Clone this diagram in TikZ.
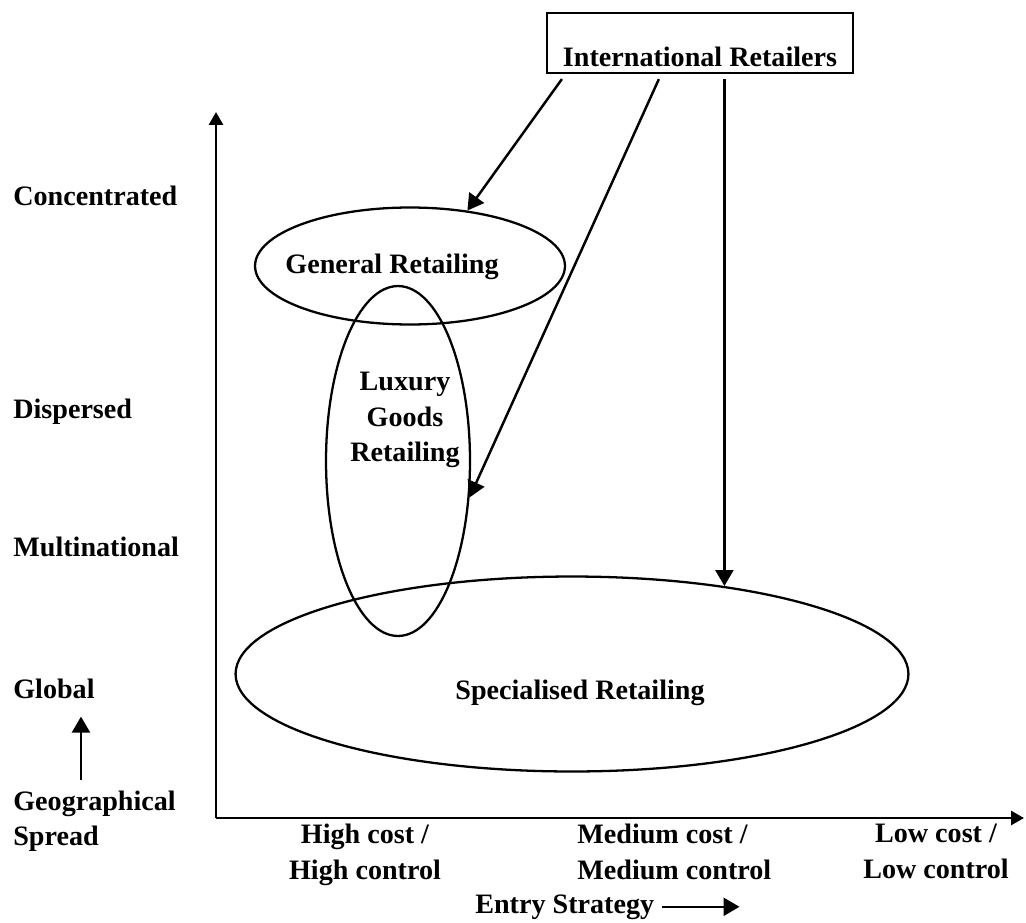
\documentclass[tikz,border=0pt]{standalone}
\usepackage{fontspec}
\setmainfont{Liberation Serif}
\usetikzlibrary{arrows.meta,positioning,calc,shapes.geometric}

\begin{document}
\begin{tikzpicture}[
  x=0.02cm, y=-0.02cm,
  lbl/.style={font=\fontsize{16}{20}\selectfont\bfseries, inner sep=0pt},
  zone/.style={draw, ellipse, line width=1.3pt, inner sep=0pt},
  arrow/.style={-{Triangle[length=3.2mm, width=3.6mm]}, line width=1.4pt},
  axis/.style={-{Triangle[length=2.6mm, width=2.8mm]}, line width=1.6pt}
]
\useasboundingbox (0,0) rectangle (1026,922);
\node[lbl, draw, line width=1.3pt, inner sep=1pt, minimum width=6.12cm, text height=29.7pt, text depth=2.4pt] (intl) at (700,43) {International Retailers};

\coordinate (origin) at (216,818);
\coordinate (ytop) at (216,112);
\coordinate (xend) at (1024,818);
\draw[axis] (origin) -- (ytop);
\draw[axis] (origin) -- (xend);

\node[zone, minimum width=6.2cm, minimum height=2.34cm] (general) at (410,266) {};
\node[zone, minimum width=2.88cm, minimum height=7.0cm] (luxury) at (398,461) {};
\node[zone, minimum width=13.46cm, minimum height=3.9cm] (special) at (572,674) {};
\node[lbl] (generaltext) at (392,267) {General Retailing};
\node[lbl, align=center] (luxurytext) at (405,420) {Luxury\\Goods\\Retailing};
\node[lbl] (specialtext) at (580,693) {Specialised Retailing};

\node[lbl, anchor=base west] (conc) at (13,205) {Concentrated};
\node[lbl, anchor=base west] (disp) at (13,418) {Dispersed};
\node[lbl, anchor=base west] (multi) at (13,556) {Multinational};
\node[lbl, anchor=base west] (global) at (13,698) {Global};
\node[lbl, align=left, anchor=west] (geo) at (13,821) {Geographical\\Spread};
\draw[arrow] ([xshift=1.36cm, yshift=0.2cm]geo.north west) -- ([xshift=1.36cm, yshift=-0.36cm]global.south west);

\node[lbl, align=center, anchor=north] (high) at (365,824) {High cost /\\High control};
\node[lbl, align=left, anchor=north west] (medium) at (577,824) {Medium cost /\\Medium control};
\node[lbl, align=center, anchor=north] (low) at (936,824) {Low cost /\\Low control};
\node[lbl, anchor=base west] (entry) at (475,913) {Entry Strategy};
\draw[arrow] ([xshift=0.16cm]entry.east) -- ++(77,0);

\draw[arrow] ([xshift=0.32cm, yshift=-0.1cm]intl.south west) -- (general.44);
\draw[arrow] ([xshift=2.26cm, yshift=-0.1cm]intl.south west) -- (luxury.-27);
\draw[arrow] ($(intl.south -| special.30.5)+(0,5)$) -- (special.30.5);
\end{tikzpicture}
\end{document}
